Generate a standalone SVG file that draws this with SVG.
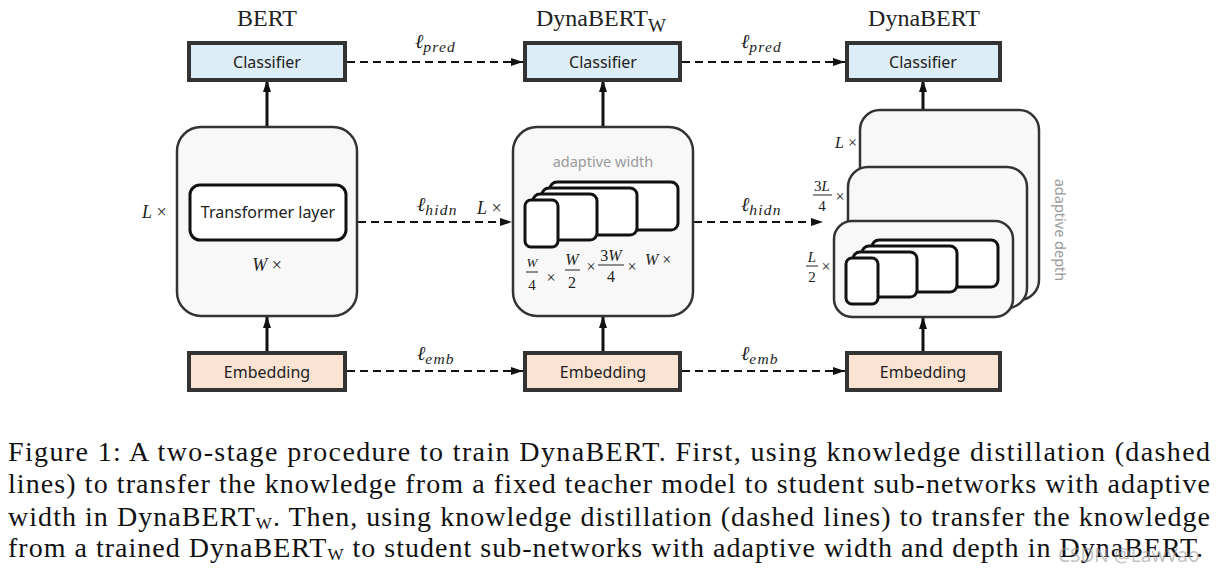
<svg xmlns="http://www.w3.org/2000/svg" width="1220" height="572" viewBox="0 0 1220 572">
<style>
.title{font-family:"Liberation Serif",serif;font-size:24px;fill:#222;text-anchor:middle}
.lbl{font-family:"Noto Sans",sans-serif;font-size:16px;fill:#222;text-anchor:middle}
.cls{fill:#dcedf7;stroke:#333;stroke-width:4}
.emb{fill:#fbe3d3;stroke:#333;stroke-width:4}
.blk{fill:#f8f8f8;stroke:#333;stroke-width:2.5}
.lay{fill:#fff;stroke:#111;stroke-width:3}
.m{font-family:"Liberation Serif",serif;font-style:italic;fill:#222}
.n{font-family:"Liberation Serif",serif;fill:#222}
.mid{text-anchor:middle}
.bar{stroke:#222;stroke-width:1}
.up{stroke:#111;stroke-width:3;fill:none}
.dash{stroke:#111;stroke-width:1.8;stroke-dasharray:8 5;fill:none}
.gray{font-family:"Noto Sans",sans-serif;font-size:14.5px;fill:#9a9a9a;text-anchor:middle}
.cap{font-family:"Liberation Serif","Times New Roman",serif;font-size:28px;fill:#111}
</style>
<defs>
<marker id="ah" viewBox="0 0 12 8" refX="12" refY="4" markerWidth="12" markerHeight="8" markerUnits="userSpaceOnUse" orient="auto"><path d="M0,0 L12,4 L0,8 z" fill="#111"/></marker>
</defs>

<g id="connectors">
<line class="up" x1="267" y1="127" x2="267" y2="80" marker-end="url(#ah)"/>
<line class="up" x1="267" y1="353" x2="267" y2="316" marker-end="url(#ah)"/>
<line class="up" x1="603" y1="127" x2="603" y2="80" marker-end="url(#ah)"/>
<line class="up" x1="603" y1="353" x2="603" y2="316" marker-end="url(#ah)"/>
<line class="up" x1="923" y1="110" x2="923" y2="80" marker-end="url(#ah)"/>
<line class="up" x1="923" y1="353" x2="923" y2="317" marker-end="url(#ah)"/>
<line class="dash" x1="347" y1="62" x2="523" y2="62" marker-end="url(#ah)"/>
<line class="dash" x1="682" y1="62" x2="845" y2="62" marker-end="url(#ah)"/>
<line class="dash" x1="358" y1="222" x2="512" y2="222" marker-end="url(#ah)"/>
<line class="dash" x1="694" y1="222" x2="823" y2="222" marker-end="url(#ah)"/>
<line class="dash" x1="347" y1="371" x2="523" y2="371" marker-end="url(#ah)"/>
<line class="dash" x1="682" y1="371" x2="845" y2="371" marker-end="url(#ah)"/>
<text class="m" x="415" y="48" font-size="20">ℓ<tspan font-size="15.5" dy="4" letter-spacing="1.2">pred</tspan></text>
<text class="m" x="741" y="48" font-size="20">ℓ<tspan font-size="15.5" dy="4" letter-spacing="1.2">pred</tspan></text>
<text class="m" x="417" y="211" font-size="20">ℓ<tspan font-size="15.5" dy="4" letter-spacing="1.2">hidn</tspan></text>
<text class="m" x="741" y="211" font-size="20">ℓ<tspan font-size="15.5" dy="4" letter-spacing="1.2">hidn</tspan></text>
<text class="m" x="417" y="360" font-size="20">ℓ<tspan font-size="15.5" dy="4" letter-spacing="1.2">emb</tspan></text>
<text class="m" x="741" y="360" font-size="20">ℓ<tspan font-size="15.5" dy="4" letter-spacing="1.2">emb</tspan></text>
</g>

<g id="bert">
<text class="title" x="267" y="26">BERT</text>
<rect class="cls" x="189" y="43" width="156" height="37"/>
<text class="lbl" x="267" y="67.5">Classifier</text>
<rect class="blk" x="177" y="127" width="180" height="189" rx="24"/>
<rect class="lay" x="190" y="185" width="156" height="55" rx="10"/>
<text class="lbl" x="268" y="218">Transformer layer</text>
<text class="n" x="142" y="218" font-size="18"><tspan class="m">L</tspan> ×</text>
<text class="n mid" x="267" y="271" font-size="18"><tspan class="m">W</tspan> ×</text>
<rect class="emb" x="189" y="353" width="156" height="37"/>
<text class="lbl" x="267" y="377.5">Embedding</text>
</g>

<g id="dynabert-w">
<text class="title" x="536" y="26" style="text-anchor:start">DynaBERT<tspan font-size="19" dy="6">W</tspan></text>
<rect class="cls" x="525" y="43" width="155" height="37"/>
<text class="lbl" x="603" y="67.5">Classifier</text>
<rect class="blk" x="513" y="127" width="180" height="189" rx="24"/>
<text class="gray" x="603" y="167">adaptive width</text>
<rect class="lay" x="550" y="182" width="128" height="48" rx="7"/>
<rect class="lay" x="542" y="188" width="95" height="47" rx="7"/>
<rect class="lay" x="533" y="194" width="64" height="46" rx="7"/>
<rect class="lay" x="525" y="200" width="33" height="47" rx="6"/>
<text class="n" x="477" y="214" font-size="18"><tspan class="m">L</tspan> ×</text>
<text class="m mid" x="532" y="267" font-size="13">W</text>
<line class="bar" x1="526" y1="272" x2="538" y2="272"/>
<text class="n mid" x="532" y="290" font-size="15">4</text>
<text class="n mid" x="551" y="283" font-size="16">×</text>
<text class="m mid" x="572" y="265" font-size="16">W</text>
<line class="bar" x1="565" y1="270" x2="580" y2="270"/>
<text class="n mid" x="572" y="288" font-size="16">2</text>
<text class="n mid" x="591" y="272" font-size="16">×</text>
<text class="n mid" x="611" y="261" font-size="16">3<tspan class="m">W</tspan></text>
<line class="bar" x1="598" y1="265" x2="624" y2="265"/>
<text class="n mid" x="611" y="282" font-size="16">4</text>
<text class="n mid" x="632" y="272" font-size="16">×</text>
<text class="n" x="645" y="265" font-size="16"><tspan class="m">W</tspan> ×</text>
<rect class="emb" x="525" y="353" width="155" height="37"/>
<text class="lbl" x="603" y="377.5">Embedding</text>
</g>

<g id="dynabert">
<text class="title" x="924" y="26">DynaBERT</text>
<rect class="cls" x="847" y="43" width="153" height="37"/>
<text class="lbl" x="923" y="67.5">Classifier</text>
<rect class="blk" x="860" y="110" width="179" height="190" rx="20"/>
<rect class="blk" x="848" y="167" width="179" height="141" rx="20"/>
<rect class="blk" x="834" y="221" width="179" height="96" rx="18"/>
<rect class="lay" x="872" y="240" width="126" height="47" rx="7"/>
<rect class="lay" x="862" y="246" width="95" height="46" rx="7"/>
<rect class="lay" x="853" y="252" width="64" height="45" rx="7"/>
<rect class="lay" x="846" y="258" width="32" height="46" rx="6"/>
<text class="n" x="835" y="148" font-size="16"><tspan class="m">L</tspan> ×</text>
<text class="n mid" x="822" y="191" font-size="15">3<tspan class="m">L</tspan></text>
<line class="bar" x1="813" y1="195" x2="832" y2="195"/>
<text class="n mid" x="822" y="211" font-size="15">4</text>
<text class="n mid" x="840" y="202" font-size="16">×</text>
<text class="m mid" x="812" y="262" font-size="15">L</text>
<line class="bar" x1="806" y1="266" x2="818" y2="266"/>
<text class="n mid" x="812" y="282" font-size="15">2</text>
<text class="n mid" x="826" y="272" font-size="16">×</text>
<text class="gray" transform="translate(1055,230) rotate(90)">adaptive depth</text>
<rect class="emb" x="847" y="353" width="153" height="37"/>
<text class="lbl" x="923" y="377.5">Embedding</text>
</g>

<g id="caption">
<text class="cap" x="8" y="461" textLength="1202" lengthAdjust="spacing">Figure 1: A two-stage procedure to train DynaBERT. First, using knowledge distillation (dashed</text>
<text class="cap" x="8" y="493" textLength="1202" lengthAdjust="spacing">lines) to transfer the knowledge from a fixed teacher model to student sub-networks with adaptive</text>
<text class="cap" x="8" y="526" textLength="1202" lengthAdjust="spacing">width in DynaBERT<tspan font-size="17" dy="3">W</tspan><tspan dy="-3">. Then, using knowledge distillation (dashed lines) to transfer the knowledge</tspan></text>
<text class="cap" x="8" y="557" textLength="1195" lengthAdjust="spacing">from a trained DynaBERT<tspan font-size="17" dy="3">W</tspan><tspan dy="-3"> to student sub-networks with adaptive width and depth in DynaBERT.</tspan></text>
<text x="1058" y="562" font-family="Noto Sans, sans-serif" font-size="19" fill="#9a9a9a" opacity="0.6">CSDN @LawVao</text>
</g>
</svg>
